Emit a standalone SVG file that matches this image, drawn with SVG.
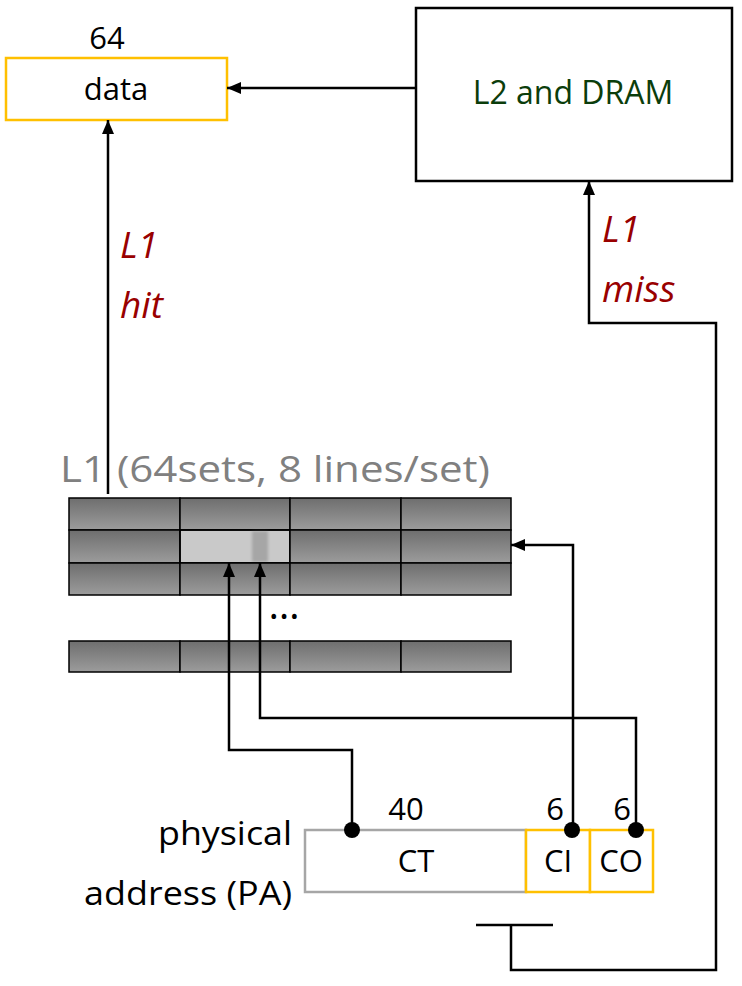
<svg xmlns="http://www.w3.org/2000/svg" width="742" height="986" viewBox="0 0 742 986">
<style>
text{font-family:"Open Sans","Noto Sans","Liberation Sans",sans-serif;}
.t{font-size:31px;fill:#000;}
.red{font-size:37px;fill:#990000;font-style:italic;}
.ln{fill:none;stroke:#000;stroke-width:2.5;}
.cell{fill:url(#g);stroke:#000;stroke-width:1.5;}
</style>
<defs>
<linearGradient id="g" x1="0" y1="0" x2="0" y2="1">
<stop offset="0" stop-color="#6e6e6e"/>
<stop offset="1" stop-color="#9c9c9c"/>
</linearGradient>
<filter id="bl" x="-50%" y="-20%" width="200%" height="140%"><feGaussianBlur stdDeviation="1.5"/></filter>
<marker id="a" viewBox="0 0 14 12" refX="14" refY="6" markerWidth="14" markerHeight="12" markerUnits="userSpaceOnUse" orient="auto">
<path d="M0,0L14,6L0,12z" fill="#000"/>
</marker>
</defs>

<g id="data">
<rect x="6" y="58" width="221" height="62" fill="#fff" stroke="#FFC000" stroke-width="2.5"/>
<text class="t" x="116" y="100" text-anchor="middle">data</text>
<text class="t" x="107" y="49" text-anchor="middle">64</text>
</g>

<g id="l2dram">
<rect x="416" y="8" width="316" height="173" fill="#fff" stroke="#000" stroke-width="2.5"/>
<text x="573" y="104" text-anchor="middle" style="font-size:32px;fill:#0B3D0B">L2 and DRAM</text>
</g>

<g id="l1cache">
<text x="60" y="482" textLength="430" lengthAdjust="spacingAndGlyphs" style="font-size:36px;fill:#808080">L1 (64sets, 8 lines/set)</text>
<g>
<rect class="cell" x="69" y="498" width="111" height="32"/>
<rect class="cell" x="180" y="498" width="110" height="32"/>
<rect class="cell" x="290" y="498" width="111" height="32"/>
<rect class="cell" x="401" y="498" width="110" height="32"/>
<rect class="cell" x="69" y="530" width="111" height="33"/>
<rect x="180" y="530" width="110" height="33" fill="#c9c9c9" stroke="#000" stroke-width="1.5"/>
<rect x="252" y="531" width="16" height="31" fill="#a6a6a6" filter="url(#bl)"/>
<rect x="180" y="530" width="110" height="33" fill="none" stroke="#000" stroke-width="1.5"/>
<rect class="cell" x="290" y="530" width="111" height="33"/>
<rect class="cell" x="401" y="530" width="110" height="33"/>
<rect class="cell" x="69" y="563" width="111" height="32"/>
<rect class="cell" x="180" y="563" width="110" height="32"/>
<rect class="cell" x="290" y="563" width="111" height="32"/>
<rect class="cell" x="401" y="563" width="110" height="32"/>
<rect class="cell" x="69" y="641" width="111" height="31"/>
<rect class="cell" x="180" y="641" width="110" height="31"/>
<rect class="cell" x="290" y="641" width="111" height="31"/>
<rect class="cell" x="401" y="641" width="110" height="31"/>
</g>
<text x="284" y="619" text-anchor="middle" style="font-size:40px;fill:#000">…</text>
</g>

<g id="pa">
<rect x="305" y="830" width="221" height="62" fill="#fff" stroke="#A6A6A6" stroke-width="2.5"/>
<rect x="526" y="830" width="64" height="62" fill="#fff" stroke="#FFC000" stroke-width="2.5"/>
<rect x="590" y="830" width="63" height="62" fill="#fff" stroke="#FFC000" stroke-width="2.5"/>
<text class="t" x="416" y="872" text-anchor="middle">CT</text>
<text class="t" x="558" y="872" text-anchor="middle">CI</text>
<text class="t" x="621" y="872" text-anchor="middle">CO</text>
<text class="t" x="406" y="820" text-anchor="middle">40</text>
<text class="t" x="555" y="820" text-anchor="middle">6</text>
<text class="t" x="622" y="820" text-anchor="middle">6</text>
<text class="t" x="158" y="845" textLength="134" lengthAdjust="spacingAndGlyphs" style="font-size:33px">physical</text>
<text class="t" x="84" y="905" textLength="208" lengthAdjust="spacingAndGlyphs" style="font-size:33px">address (PA)</text>
</g>

<g id="labels">
<text class="red" x="120" y="258">L1</text>
<text class="red" x="120" y="318">hit</text>
<text class="red" x="602" y="242">L1</text>
<text class="red" x="602" y="302">miss</text>
</g>

<g id="connectors">
<path class="ln" d="M416,88H227" marker-end="url(#a)"/>
<path class="ln" d="M108,494V120" marker-end="url(#a)"/>
<path class="ln" d="M476,925H553M511,925V970H716V323H589V181" marker-end="url(#a)"/>
<path class="ln" d="M352,830V750H229V563" marker-end="url(#a)"/>
<path class="ln" d="M636,830V718H260V563" marker-end="url(#a)"/>
<path class="ln" d="M573,830V545H511" marker-end="url(#a)"/>
<circle cx="352" cy="830" r="8" fill="#000"/>
<circle cx="572" cy="830" r="8" fill="#000"/>
<circle cx="636" cy="830" r="8" fill="#000"/>
</g>
</svg>
